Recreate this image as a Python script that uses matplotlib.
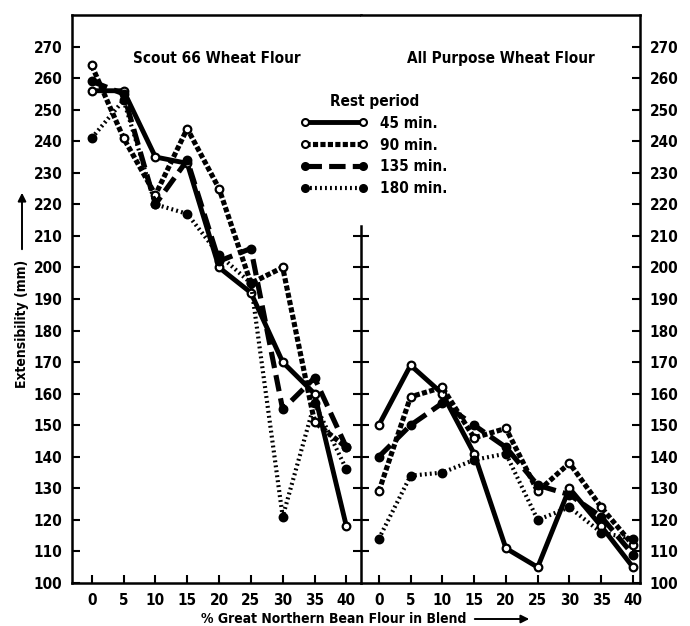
import matplotlib
matplotlib.use("Agg")
import matplotlib.pyplot as plt
from matplotlib.lines import Line2D
from matplotlib.patches import FancyArrowPatch

plt.rcParams["font.family"] = ["DejaVu Sans"]
plt.rcParams["font.stretch"] = "condensed"
plt.rcParams["font.weight"] = "bold"

blend = [0, 5, 10, 15, 20, 25, 30, 35, 40]

# Scout 66 wheat flour
scout_45 = [256, 256, 235, 233, 200, 192, 170, 160, 118]
scout_90 = [264, 241, 223, 244, 225, 195, 200, 151, 143]
scout_135 = [259, 255, 220, 234, 202, 206, 155, 165, 143]
scout_180 = [241, 253, 220, 217, 204, 195, 121, 157, 136]

# All purpose wheat flour
ap_45 = [150, 169, 160, 141, 111, 105, 130, 118, 105]
ap_90 = [129, 159, 162, 146, 149, 129, 138, 124, 112]
ap_135 = [140, 150, 157, 150, 143, 131, 128, 121, 109]
ap_180 = [114, 134, 135, 139, 141, 120, 124, 116, 114]

rest_labels = ["45 min.", "90 min.", "135 min.", "180 min."]
y_ticks = list(range(100, 280, 10))

STYLES = [
    dict(linestyle="-", linewidth=3.5, marker="o", markerfacecolor="white"),
    dict(linestyle=(0, (1.0, 0.45)), linewidth=3.7, marker="o", markerfacecolor="white"),
    dict(linestyle=(0, (3.2, 1.4)), linewidth=3.7, marker="o", markerfacecolor="black"),
    dict(linestyle=(0, (0.45, 0.75)), linewidth=3.0, marker="o", markerfacecolor="black"),
]
FS = 11


def draw_panel(ax, series, title):
    for vals, st in zip(series, STYLES):
        ax.plot(blend, vals, color="black", markersize=5.5, markeredgewidth=1.6,
                markeredgecolor="black", dash_capstyle="butt", solid_capstyle="butt", **st)
    ax.set_ylim(100, 280)
    ax.set_yticks(y_ticks)
    ax.set_xticks(blend)
    ax.tick_params(axis="both", direction="in", length=6, width=1.5, labelsize=FS, pad=7)
    for s in ax.spines.values():
        s.set_linewidth(1.8)
    ax.text(0.5, 0.924, title, transform=ax.transAxes, ha="center", va="center",
            fontsize=FS, fontweight="bold")


fig = plt.figure(figsize=(6.9, 6.26), dpi=100)
W, H = 690, 626
bottom = (H - 583) / H
height = (583 - 15) / H
ax1 = fig.add_axes([72 / W, bottom, (361 - 72) / W, height])
ax2 = fig.add_axes([361 / W, bottom, (640 - 361) / W, height])

draw_panel(ax1, [scout_45, scout_90, scout_135, scout_180], "Scout 66 Wheat Flour")
draw_panel(ax2, [ap_45, ap_90, ap_135, ap_180], "All Purpose Wheat Flour")

ax1.set_xlim(-3.1, 42.3)
ax2.set_xlim(-2.8, 41.1)
ax1.spines["right"].set_visible(False)
ax2.spines["left"].set_visible(False)
ax2.tick_params(axis="y", left=False, labelleft=False, right=True, labelright=True)

# divider between panels, ticked on both sides
axd = fig.add_axes([361 / W, bottom, 0.0001, height])
axd.set_ylim(100, 280)
axd.set_xticks([])
axd.set_yticks(y_ticks[1:12])
axd.tick_params(axis="y", direction="inout", length=12, width=1.5, labelleft=False)
for name in ["top", "right", "bottom"]:
    axd.spines[name].set_visible(False)
axd.spines["left"].set_bounds(100, 213)
axd.spines["left"].set_linewidth(1.8)
axd.patch.set_visible(False)

# legend
handles = [Line2D([0], [0], color="black", markersize=5, markeredgewidth=1.5,
                  markeredgecolor="black", dash_capstyle="butt", **st) for st in STYLES]
leg = fig.legend(handles, rest_labels, title="Rest period", loc="upper left",
                 bbox_to_anchor=(287 / W, 1 - 80 / H), frameon=False, numpoints=2,
                 handlelength=4.4, labelspacing=0.45, handletextpad=0.8,
                 fontsize=FS, title_fontsize=FS)
leg.get_title().set_fontweight("bold")

# axis labels with arrows
fig.text(22 / W, 1 - 324 / H, "Extensibility (mm)", rotation=90, ha="center", va="center",
         fontsize=10, fontweight="bold")
fig.add_artist(FancyArrowPatch(
    (22 / W, 1 - 252 / H), (22 / W, 1 - 190 / H), transform=fig.transFigure,
    arrowstyle="-|>", mutation_scale=12, color="black", linewidth=1.4))
fig.text(466 / W, 1 - 619 / H, "% Great Northern Bean Flour in Blend", ha="right", va="center",
         fontsize=10, fontweight="bold")
fig.add_artist(FancyArrowPatch(
    (472 / W, 1 - 619 / H), (532 / W, 1 - 619 / H), transform=fig.transFigure,
    arrowstyle="-|>", mutation_scale=12, color="black", linewidth=1.4))

fig.savefig("out.png", dpi=100)
